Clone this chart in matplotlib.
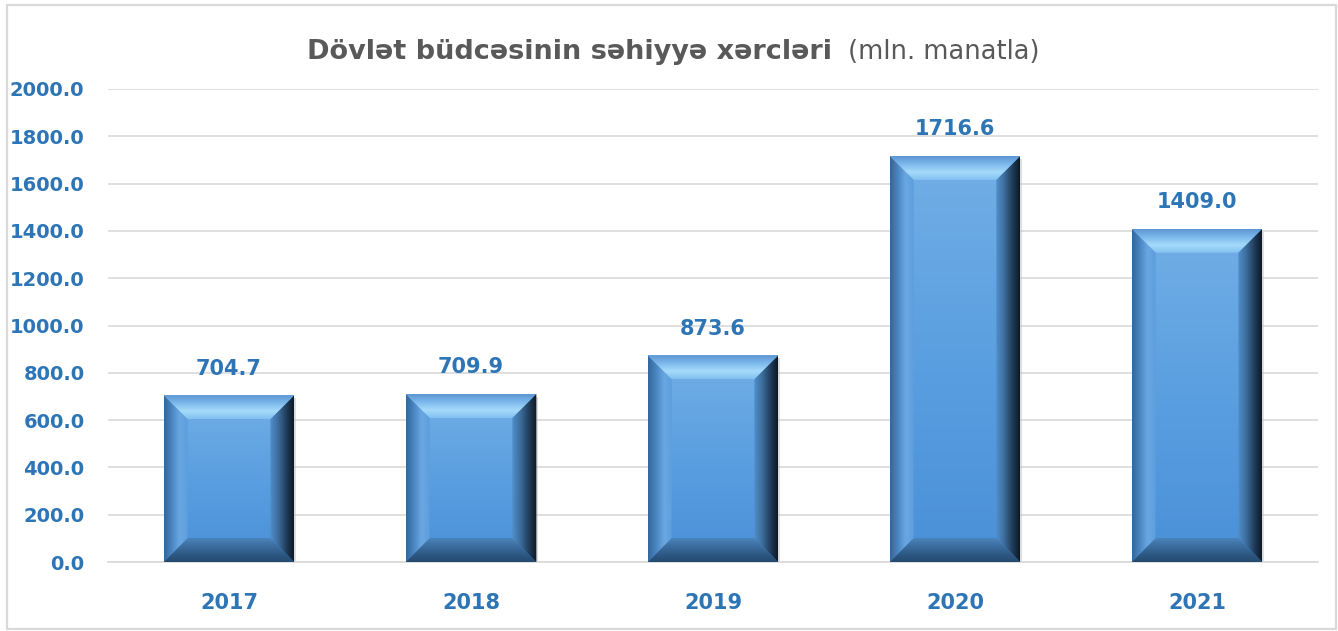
import numpy as np
import matplotlib
matplotlib.use("Agg")
import matplotlib.pyplot as plt
from matplotlib.colors import LinearSegmentedColormap
from matplotlib.patches import Polygon, Rectangle

years = ["2017", "2018", "2019", "2020", "2021"]
values = [704.7, 709.9, 873.6, 1716.6, 1409.0]
yticks = [0, 200, 400, 600, 800, 1000, 1200, 1400, 1600, 1800, 2000]

BLUE = "#2e75b6"
plt.rcParams["font.family"] = ["DejaVu Sans"]

W, H = 1338, 631
fig = plt.figure(figsize=(W / 100, H / 100), dpi=100)
ax = fig.add_axes([108 / W, (H - 562) / H, 1210 / W, (562 - 89) / H])

x = np.arange(len(years))
bw = 0.54
bars = ax.bar(x, values, width=bw, color="#5b9fe0", zorder=2, linewidth=0)

ax.set_xlim(-0.5, len(years) - 0.5)
ax.set_ylim(0, 2000)
ax.set_yticks(yticks)
ax.set_yticklabels([f"{v:.1f}" for v in yticks])
ax.set_xticks(x)
ax.set_xticklabels(years)
ax.grid(axis="y", color="#d9d9d9", linewidth=1.2, zorder=0)
ax.set_axisbelow(True)
for s in ax.spines.values():
    s.set_visible(False)
ax.spines["bottom"].set_visible(True)
ax.spines["bottom"].set_color("#d9d9d9")
ax.spines["bottom"].set_linewidth(1.2)
ax.tick_params(axis="both", length=0, colors=BLUE)
ax.tick_params(axis="y", pad=17)
ax.tick_params(axis="x", pad=22)
for lab in ax.get_yticklabels():
    lab.set_fontweight("bold")
    lab.set_fontsize(14)
    lab.set_color(BLUE)
for lab in ax.get_xticklabels():
    lab.set_fontweight("bold")
    lab.set_fontsize(15)
    lab.set_color(BLUE)

# pixel -> data scale
fig.canvas.draw()
p0 = ax.transData.transform((0, 0))
p1 = ax.transData.transform((1, 1))
px_x = p1[0] - p0[0]
px_y = p1[1] - p0[1]
bev = 24
dx = bev / px_x
dy = bev / px_y


def grad(poly_pts, extent, cols, vertical):
    cmap = LinearSegmentedColormap.from_list("g", cols)
    n = 256
    if vertical:
        arr = np.linspace(0, 1, n).reshape(n, 1)  # first color at top
    else:
        arr = np.linspace(0, 1, n).reshape(1, n)
    im = ax.imshow(arr, cmap=cmap, extent=extent, aspect="auto",
                   interpolation="bicubic", zorder=3, origin="upper", vmin=0, vmax=1)
    poly = Polygon(poly_pts, closed=True, transform=ax.transData,
                   facecolor="none", edgecolor="none")
    ax.add_patch(poly)
    im.set_clip_path(poly)


for b in bars:
    x0 = b.get_x()
    x1 = x0 + b.get_width()
    y0 = 0
    y1 = b.get_height()
    # shadow
    ax.add_patch(Rectangle((x0 + 2 / px_x, y0 - 3 / px_y), x1 - x0, y1 - y0,
                           facecolor="#bfbfbf", alpha=0.5, edgecolor="none", zorder=1.5))
    # face
    grad([(x0, y0), (x1, y0), (x1, y1), (x0, y1)], (x0, x1, y0, y1),
         ["#72aee6", "#5a9fe0", "#4a90d8"], True)
    # top bevel
    grad([(x0, y1), (x1, y1), (x1 - dx, y1 - dy), (x0 + dx, y1 - dy)],
         (x0, x1, y1 - dy, y1),
         ["#5c96d2", "#7cb8ec", "#a5dbfa", "#82c0f0"], True)
    # bottom bevel
    grad([(x0, y0), (x1, y0), (x1 - dx, y0 + dy), (x0 + dx, y0 + dy)],
         (x0, x1, y0, y0 + dy),
         ["#4b84bd", "#3c6e9f", "#2e5a86", "#24496e"], True)
    # left bevel
    grad([(x0, y0), (x0, y1), (x0 + dx, y1 - dy), (x0 + dx, y0 + dy)],
         (x0, x0 + dx, y0, y1),
         ["#33669a", "#4a86c2", "#6aa8e4", "#5d9ddc"], False)
    # right bevel
    grad([(x1, y0), (x1, y1), (x1 - dx, y1 - dy), (x1 - dx, y0 + dy)],
         (x1 - dx, x1, y0, y1),
         ["#5290cc", "#3c6e9e", "#223f5e", "#0b1824"], False)
    ax.annotate(f"{y1:.1f}", (b.get_x() + b.get_width() / 2, y1),
                xytext=(0, 12), textcoords="offset points", ha="center", va="bottom",
                color=BLUE, fontsize=15, fontweight="bold", zorder=5)

# title
fig.text(832 / W, 1 - 52 / H, "Dövlət büdcəsinin səhiyyə xərcləri", ha="right",
         va="center", fontsize=19.5, fontweight="bold", color="#595959")
fig.text(848 / W, 1 - 52 / H, "(mln. manatla)", ha="left", va="center",
         fontsize=18.5, color="#595959")

# border
fig.patches.append(Rectangle((7 / W, 2 / H), (W - 9) / W, (H - 7) / H,
                             transform=fig.transFigure, facecolor="none",
                             edgecolor="#d9d9d9", linewidth=1.6))

fig.savefig("out.png", dpi=100)
